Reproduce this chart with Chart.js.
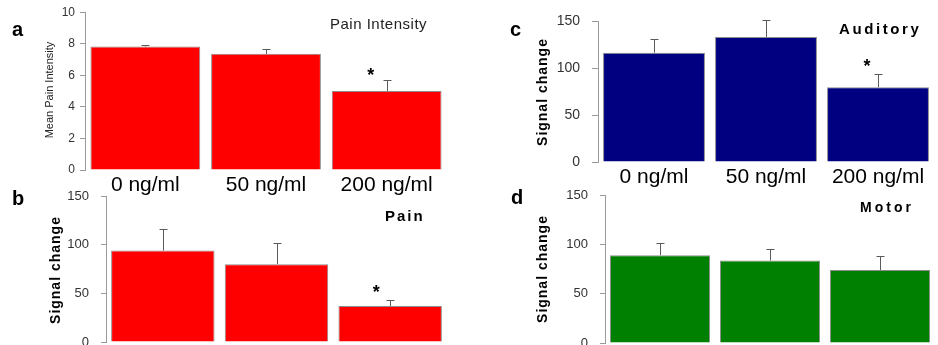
<!DOCTYPE html>
<html><head><meta charset="utf-8">
<script src="https://cdn.jsdelivr.net/npm/chart.js@4/dist/chart.umd.min.js"></script>
<style>
html,body{margin:0;padding:0;background:#fff}
body{width:938px;height:345px;overflow:hidden;position:relative;font-family:"Liberation Sans",Arial,sans-serif}
canvas{position:absolute;display:block}
.txt{position:absolute;white-space:nowrap;line-height:1;color:#000}
.rot{position:absolute;white-space:nowrap;line-height:1;color:#000;transform:translate(-50%,-50%) rotate(-90deg)}
</style></head><body>
<canvas id="ca" width="450" height="200" style="left:0;top:0"></canvas>
<canvas id="cb" width="450" height="205" style="left:0;top:160px"></canvas>
<canvas id="cc" width="468" height="200" style="left:470px;top:0"></canvas>
<canvas id="cd" width="468" height="205" style="left:470px;top:160px"></canvas>

<div class="txt" style="left:12px;top:19px;font-size:20px;font-weight:bold">a</div>
<div class="txt" style="left:12px;top:188px;font-size:20px;font-weight:bold">b</div>
<div class="txt" style="left:510px;top:19px;font-size:20px;font-weight:bold">c</div>
<div class="txt" style="left:511px;top:187px;font-size:20px;font-weight:bold">d</div>

<div class="txt" style="left:330px;top:16px;font-size:15px;letter-spacing:0.5px;color:#222">Pain Intensity</div>
<div class="txt" style="left:385px;top:208px;font-size:15px;font-weight:bold;letter-spacing:2px">Pain</div>
<div class="txt" style="left:839px;top:21px;font-size:15px;font-weight:bold;letter-spacing:2.6px">Auditory</div>
<div class="txt" style="left:860px;top:200px;font-size:14px;font-weight:bold;letter-spacing:3px">Motor</div>

<div class="rot" style="left:49px;top:90px;font-size:11px;color:#222">Mean Pain Intensity</div>
<div class="rot" style="left:55px;top:270px;font-size:14px;font-weight:bold;letter-spacing:1px">Signal change</div>
<div class="rot" style="left:542px;top:92px;font-size:14px;font-weight:bold;letter-spacing:1px">Signal change</div>
<div class="rot" style="left:542px;top:269px;font-size:14px;font-weight:bold;letter-spacing:1px">Signal change</div>

<script>
// ---- data ----
const categories = ['0 ng/ml', '50 ng/ml', '200 ng/ml'];
const painIntensityTicks = [0, 2, 4, 6, 8, 10];
const signalTicks = [0, 50, 100, 150];

const painIntensityMean = [7.83, 7.36, 5.0];
const painIntensitySem  = [0.12, 0.28, 0.7];
const painIntensitySig  = [false, false, true];

const painSignalMean = [94, 80, 37];
const painSignalSem  = [21.6, 22, 6];
const painSignalSig  = [false, false, true];

const auditorySignalMean = [116.3, 133, 79.6];
const auditorySignalSem  = [14.3, 17.7, 13.8];
const auditorySignalSig  = [false, false, true];

const motorSignalMean = [89, 83.6, 73.9];
const motorSignalSem  = [12.2, 11.5, 14.5];
const motorSignalSig  = [false, false, false];

// ---- rendering ----
Chart.defaults.font.family = '"Liberation Sans", Arial, sans-serif';

const errorBarPlugin = {
  id: 'errorBars',
  afterDatasetsDraw(chart, args, opts) {
    const ctx = chart.ctx, ys = chart.scales.y;
    chart.data.datasets.forEach((ds, di) => {
      const meta = chart.getDatasetMeta(di);
      meta.data.forEach((bar, i) => {
        const v = ds.data[i], e = ds.errors[i];
        const yTop = Math.round(ys.getPixelForValue(v + e)) + 0.5;
        const yBar = ys.getPixelForValue(v);
        const x = Math.round(bar.x) + 0.5;
        ctx.save();
        ctx.strokeStyle = '#5a5a5a';
        ctx.lineWidth = 1;
        ctx.beginPath();
        ctx.moveTo(x, yBar);
        ctx.lineTo(x, yTop);
        ctx.moveTo(x - 4, yTop);
        ctx.lineTo(x + 4, yTop);
        ctx.stroke();
        if (ds.significant && ds.significant[i]) {
          ctx.fillStyle = '#000';
          ctx.font = 'bold 18px "Liberation Sans", Arial, sans-serif';
          ctx.textAlign = 'center';
          ctx.textBaseline = 'alphabetic';
          ctx.fillText('*', bar.x + opts.starDx, yTop + opts.starDy);
        }
        ctx.restore();
      });
    });
  }
};

function makePanel(id, cfg) {
  new Chart(document.getElementById(id), {
    type: 'bar',
    data: {
      labels: categories,
      datasets: [{
        data: cfg.values,
        errors: cfg.errors,
        significant: cfg.sig,
        backgroundColor: cfg.color,
        borderColor: '#8c8c8c',
        borderWidth: 1,
        categoryPercentage: 1,
        barPercentage: 0.91
      }]
    },
    options: {
      responsive: false,
      animation: false,
      devicePixelRatio: 1,
      layout: { padding: cfg.padding },
      plugins: {
        legend: { display: false },
        tooltip: { enabled: false },
        errorBars: { starDx: cfg.starDx, starDy: cfg.starDy }
      },
      scales: {
        x: {
          display: cfg.showX,
          grid: { display: false, drawTicks: false },
          border: { display: false },
          ticks: {
            color: '#000',
            padding: 3,
            font: { size: 21 },
            maxRotation: 0,
            autoSkip: false
          },
          afterFit(s) { s.height = cfg.xHeight; }
        },
        y: {
          min: 0,
          max: cfg.max,
          grid: { display: true, drawOnChartArea: false, drawTicks: true, tickLength: cfg.tickLen, color: '#9a9a9a' },
          border: { display: true, color: '#9a9a9a' },
          ticks: { color: '#333', padding: cfg.tickPad, font: { size: cfg.tickSize } },
          afterBuildTicks(s) { s.ticks = cfg.ticks.map(v => ({ value: v })); },
          afterFit(s) { s.width = cfg.yWidth; }
        }
      }
    },
    plugins: [errorBarPlugin]
  });
}

makePanel('ca', {
  values: painIntensityMean, errors: painIntensitySem, sig: painIntensitySig,
  color: '#ff0000', max: 10, ticks: painIntensityTicks, tickSize: 12, tickPad: 5, tickLen: 5,
  yWidth: 85, xHeight: 30, padding: { top: 12, right: 3, left: 0, bottom: 0 },
  showX: true, starDx: -16, starDy: 0
});
makePanel('cb', {
  values: painSignalMean, errors: painSignalSem, sig: painSignalSig,
  color: '#ff0000', max: 150, ticks: signalTicks, tickSize: 13, tickPad: 12, tickLen: 5,
  yWidth: 106, xHeight: 0, padding: { top: 36, right: 3, left: 0, bottom: 23 },
  showX: false, starDx: -14, starDy: -3
});
makePanel('cc', {
  values: auditorySignalMean, errors: auditorySignalSem, sig: auditorySignalSig,
  color: '#000080', max: 150, ticks: signalTicks, tickSize: 14, tickPad: 12, tickLen: 6,
  yWidth: 128, xHeight: 38, padding: { top: 21, right: 4, left: 0, bottom: 0 },
  showX: true, starDx: -11, starDy: -3
});
makePanel('cd', {
  values: motorSignalMean, errors: motorSignalSem, sig: motorSignalSig,
  color: '#008000', max: 150, ticks: signalTicks, tickSize: 13, tickPad: 12, tickLen: 5,
  yWidth: 135, xHeight: 0, padding: { top: 35, right: 3, left: 0, bottom: 22 },
  showX: false, starDx: -11, starDy: -3
});
</script>
</body></html>
